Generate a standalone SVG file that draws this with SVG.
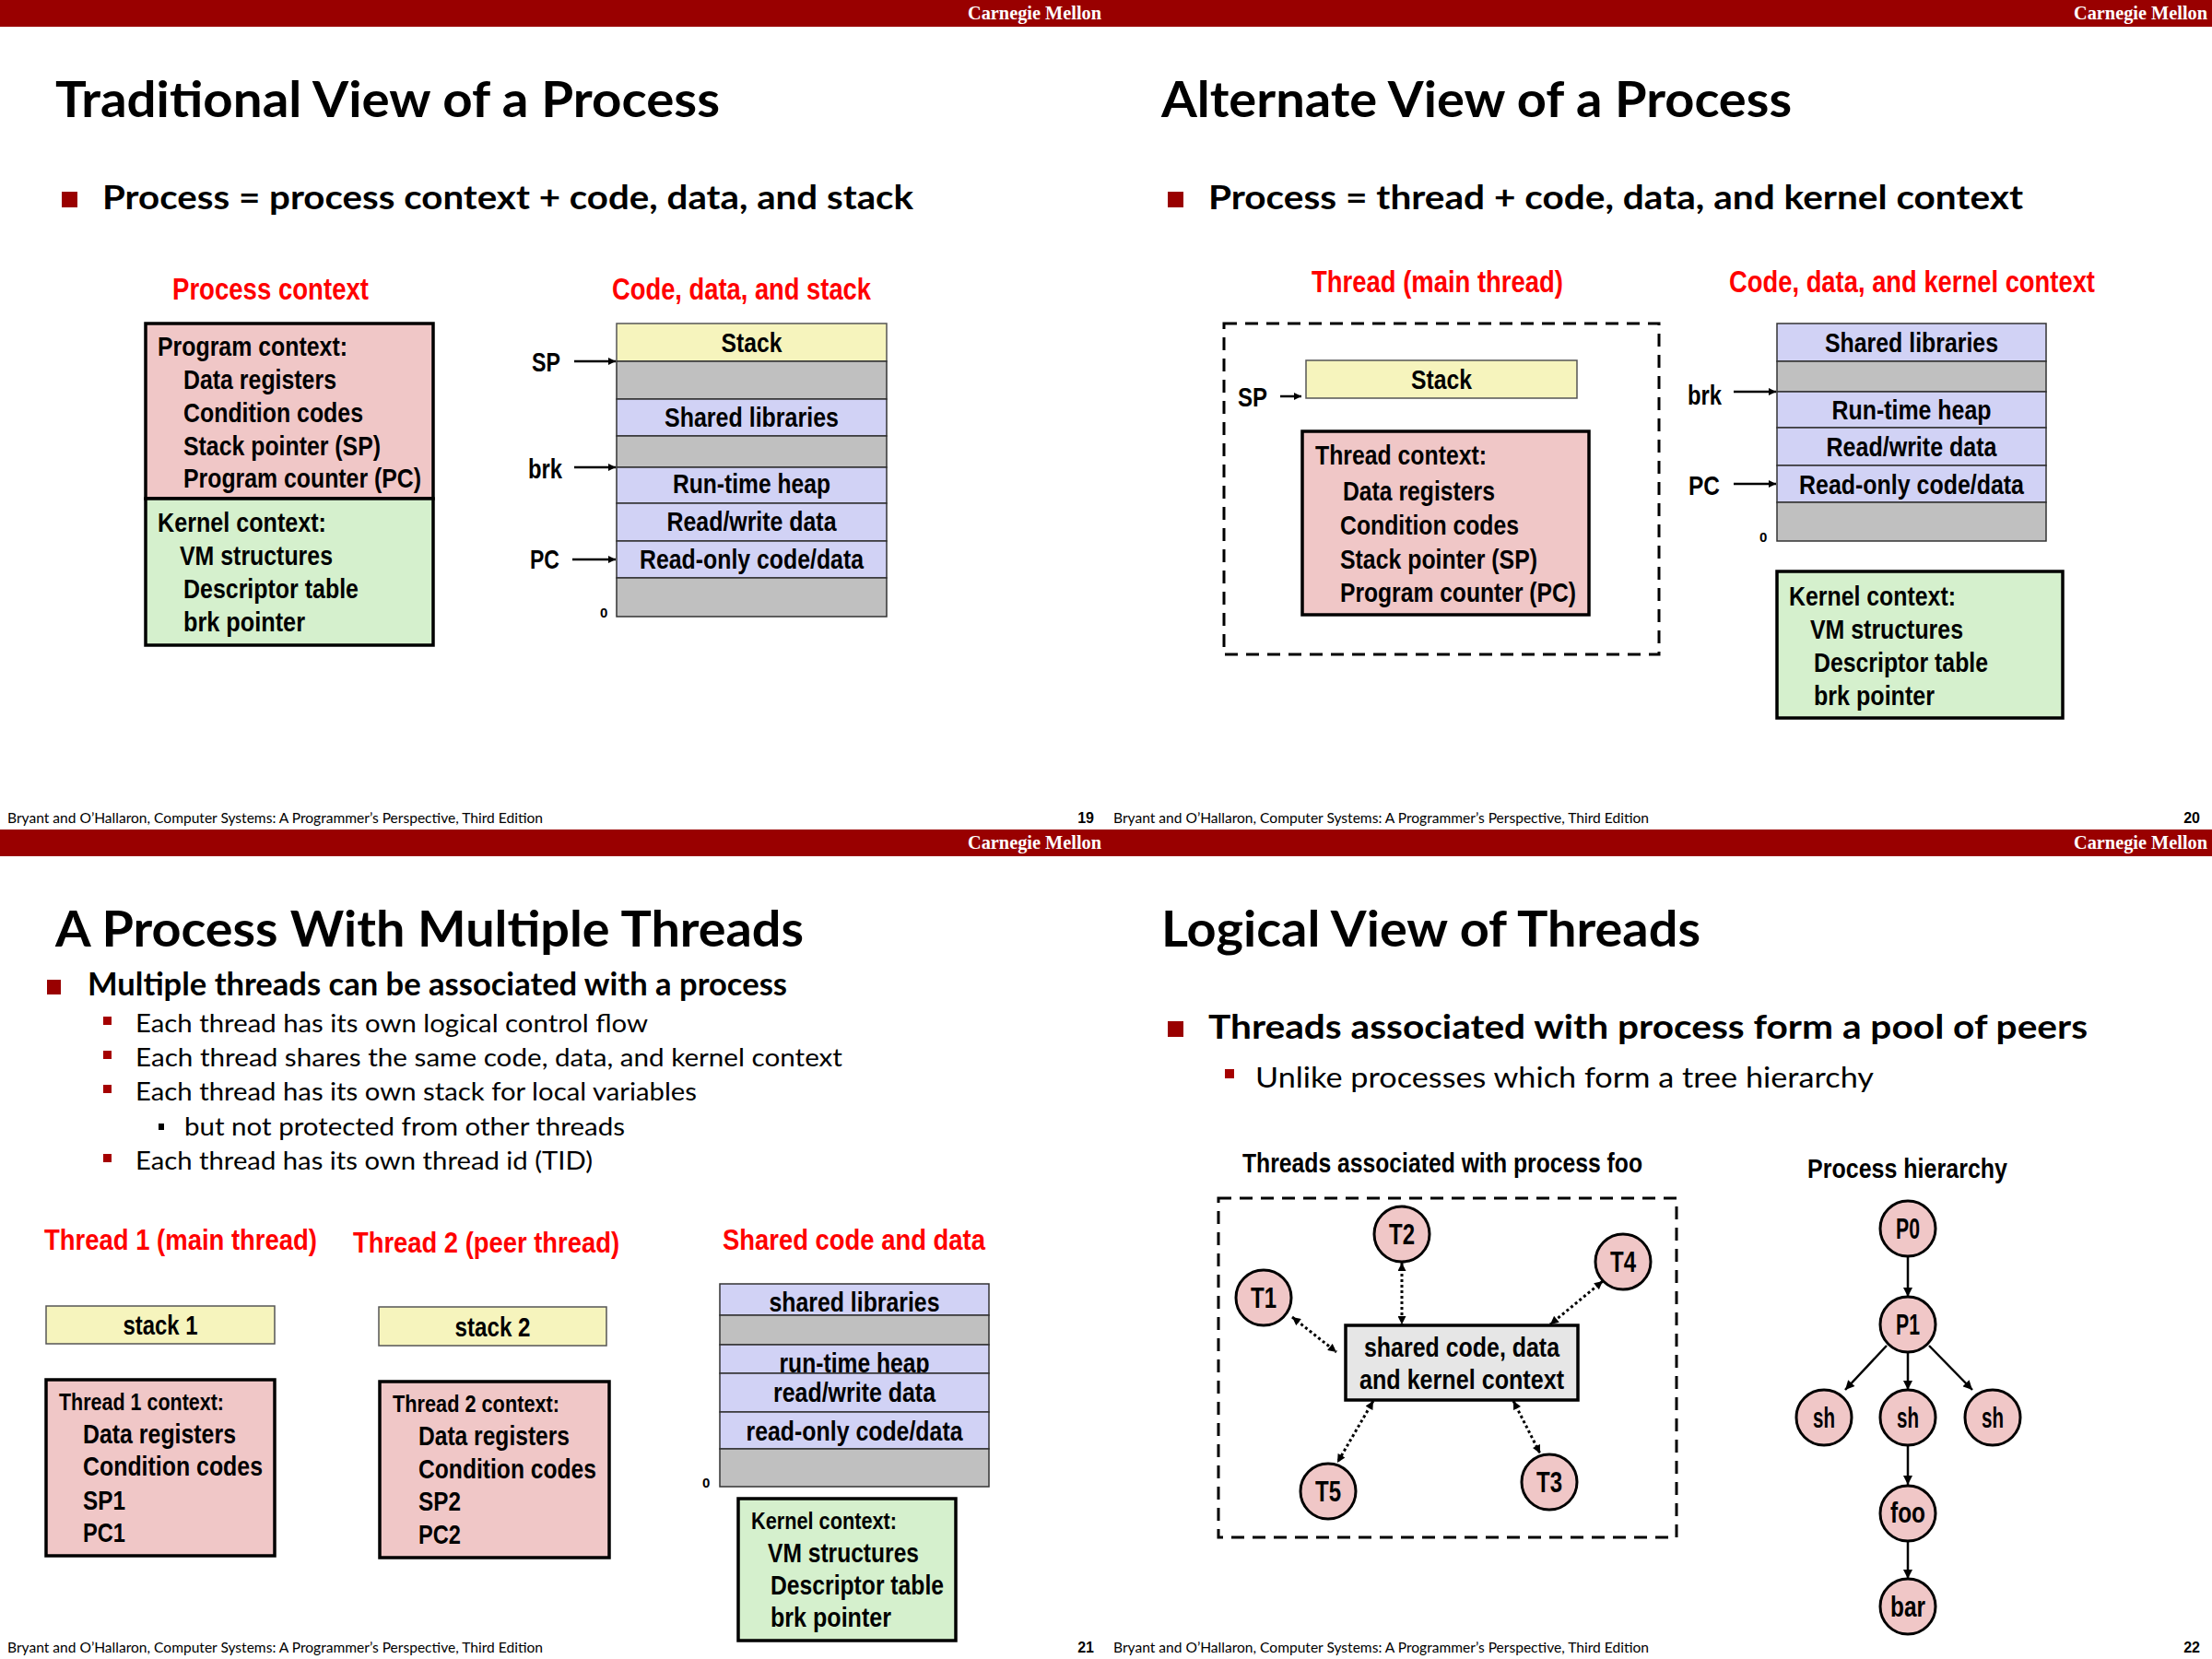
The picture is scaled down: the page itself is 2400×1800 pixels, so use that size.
<svg xmlns="http://www.w3.org/2000/svg" width="2400" height="1800" viewBox="0 0 2400 1800">
<defs>
<style>
.bar{fill:#990000}
.cm{font-family:"Liberation Serif",serif;font-weight:bold;font-size:20px;fill:#fff;text-anchor:end}
.title{font-family:Lato,"Open Sans",sans-serif;font-weight:bold;font-size:53px;fill:#000}
.bul{font-family:Lato,"Open Sans",sans-serif;font-weight:bold;font-size:36px;fill:#000}
.sub{font-family:Lato,"Open Sans",sans-serif;font-size:27px;fill:#000}
.sub4{font-family:Lato,"Open Sans",sans-serif;font-size:31px;fill:#000}
.foot{font-family:Lato,"Open Sans",sans-serif;font-size:15px;fill:#000}
.pg{font-family:"Liberation Sans",sans-serif;font-weight:bold;font-size:16px;text-anchor:end;fill:#000}
.lbl{font-family:"Liberation Sans",Arial,sans-serif;font-weight:bold;font-size:30px;fill:#000}
.sm{font-size:26px}
.red{fill:#ff0000;font-size:33px}
.zero{font-family:"Liberation Sans",sans-serif;font-weight:bold;font-size:15px;fill:#000}
.mid{text-anchor:middle}
.bsq{fill:#990000}
.ssq{fill:#a50000}
.pink{fill:#f0c7c7;stroke:#000;stroke-width:3.5}
.green{fill:#d5f0cd;stroke:#000;stroke-width:3.5}
.yel{fill:#f6f4bd;stroke:#555;stroke-width:1.5}
.lav{fill:#d1d2f5;stroke:#333;stroke-width:1.5}
.gray{fill:#c0c0c0;stroke:#333;stroke-width:1.5}
.core{fill:#e6e6e6;stroke:#000;stroke-width:3.5}
.dash{fill:none;stroke:#000;stroke-width:3;stroke-dasharray:14 9}
.circ{fill:#f0c7c7;stroke:#000;stroke-width:3}
.arr{fill:none;stroke:#000;stroke-width:2.5;marker-end:url(#ah)}
.dot{fill:none;stroke:#000;stroke-width:3;stroke-dasharray:3 3;marker-start:url(#dh);marker-end:url(#dh)}
.tree{fill:none;stroke:#000;stroke-width:2.5;marker-end:url(#th)}
.cl{font-size:32px}
</style>
<marker id="ah" viewBox="0 0 10 10" refX="10" refY="5" markerUnits="userSpaceOnUse" markerWidth="9" markerHeight="8" orient="auto"><path d="M0,0 L10,5 L0,10 z" fill="#000"/></marker>
<marker id="th" viewBox="0 0 10 10" refX="10" refY="5" markerUnits="userSpaceOnUse" markerWidth="11" markerHeight="10" orient="auto"><path d="M0,0 L10,5 L0,10 z" fill="#000"/></marker>
<marker id="dh" viewBox="0 0 10 10" refX="10" refY="5" markerUnits="userSpaceOnUse" markerWidth="10" markerHeight="9" orient="auto-start-reverse"><path d="M0,0 L10,5 L0,10 z" fill="#000"/></marker>
</defs>
<rect width="2400" height="1800" fill="#fff"/>

<!-- ============ Slide 19 ============ -->
<g id="slide19">
<rect class="bar" x="0" y="0" width="1200" height="29"/>
<text class="cm" x="1195" y="21" textLength="145" lengthAdjust="spacingAndGlyphs">Carnegie Mellon</text>
<text class="title" x="60" y="127" textLength="721" lengthAdjust="spacingAndGlyphs">Traditional View of a Process</text>
<rect class="bsq" x="67" y="208" width="17" height="17"/>
<text class="bul" x="111" y="227" textLength="880" lengthAdjust="spacingAndGlyphs">Process = process context + code, data, and stack</text>
<text class="lbl red" x="187" y="325" textLength="213" lengthAdjust="spacingAndGlyphs">Process context</text>
<text class="lbl red" x="664" y="325" textLength="281" lengthAdjust="spacingAndGlyphs">Code, data, and stack</text>
<g id="s19-program-context">
<rect class="pink" x="158" y="351" width="312" height="190"/>
<text class="lbl" x="171" y="386" textLength="206" lengthAdjust="spacingAndGlyphs">Program context:</text>
<text class="lbl" x="199" y="422" textLength="166" lengthAdjust="spacingAndGlyphs">Data registers</text>
<text class="lbl" x="199" y="458" textLength="195" lengthAdjust="spacingAndGlyphs">Condition codes</text>
<text class="lbl" x="199" y="494" textLength="214" lengthAdjust="spacingAndGlyphs">Stack pointer (SP)</text>
<text class="lbl" x="199" y="529" textLength="258" lengthAdjust="spacingAndGlyphs">Program counter (PC)</text>
</g>
<g id="s19-kernel-context">
<rect class="green" x="158" y="541" width="312" height="159"/>
<text class="lbl" x="171" y="577" textLength="183" lengthAdjust="spacingAndGlyphs">Kernel context:</text>
<text class="lbl" x="195" y="613" textLength="166" lengthAdjust="spacingAndGlyphs">VM structures</text>
<text class="lbl" x="199" y="649" textLength="190" lengthAdjust="spacingAndGlyphs">Descriptor table</text>
<text class="lbl" x="199" y="685" textLength="132" lengthAdjust="spacingAndGlyphs">brk pointer</text>
</g>
<g id="s19-memory">
<rect class="yel" x="669" y="351" width="293" height="41"/>
<rect class="gray" x="669" y="392" width="293" height="41"/>
<rect class="lav" x="669" y="433" width="293" height="40"/>
<rect class="gray" x="669" y="473" width="293" height="34"/>
<rect class="lav" x="669" y="507" width="293" height="39"/>
<rect class="lav" x="669" y="546" width="293" height="41"/>
<rect class="lav" x="669" y="587" width="293" height="40"/>
<rect class="gray" x="669" y="627" width="293" height="42"/>
<text class="lbl mid" x="815.5" y="382" textLength="66" lengthAdjust="spacingAndGlyphs">Stack</text>
<text class="lbl mid" x="815.5" y="463" textLength="189" lengthAdjust="spacingAndGlyphs">Shared libraries</text>
<text class="lbl mid" x="815.5" y="535" textLength="171" lengthAdjust="spacingAndGlyphs">Run-time heap</text>
<text class="lbl mid" x="815.5" y="576" textLength="184" lengthAdjust="spacingAndGlyphs">Read/write data</text>
<text class="lbl mid" x="815.5" y="617" textLength="243" lengthAdjust="spacingAndGlyphs">Read-only code/data</text>
<text class="zero" x="651" y="670">0</text>
</g>
<g id="s19-pointers">
<text class="lbl" x="577" y="403" textLength="31" lengthAdjust="spacingAndGlyphs">SP</text>
<text class="lbl" x="573" y="519" textLength="37" lengthAdjust="spacingAndGlyphs">brk</text>
<text class="lbl" x="575" y="617" textLength="32" lengthAdjust="spacingAndGlyphs">PC</text>
</g>
<g id="s19-connectors">
<line class="arr" x1="623" y1="392" x2="668" y2="392"/>
<line class="arr" x1="623" y1="507" x2="668" y2="507"/>
<line class="arr" x1="621" y1="607" x2="668" y2="607"/>
</g>
<text class="foot" x="8" y="893" textLength="581" lengthAdjust="spacingAndGlyphs">Bryant and O’Hallaron, Computer Systems: A Programmer’s Perspective, Third Edition</text>
<text class="pg" x="1187" y="893">19</text>
</g>

<!-- ============ Slide 20 ============ -->
<g id="slide20">
<rect class="bar" x="1200" y="0" width="1200" height="29"/>
<text class="cm" x="2395" y="21" textLength="145" lengthAdjust="spacingAndGlyphs">Carnegie Mellon</text>
<text class="title" x="1260" y="127" textLength="684" lengthAdjust="spacingAndGlyphs">Alternate View of a Process</text>
<rect class="bsq" x="1267" y="208" width="17" height="17"/>
<text class="bul" x="1311" y="227" textLength="884" lengthAdjust="spacingAndGlyphs">Process = thread + code, data, and kernel context</text>
<text class="lbl red" x="1423" y="317" textLength="273" lengthAdjust="spacingAndGlyphs">Thread (main thread)</text>
<text class="lbl red" x="1876" y="317" textLength="397" lengthAdjust="spacingAndGlyphs">Code, data, and kernel context</text>
<g id="s20-thread">
<rect class="dash" x="1328" y="351" width="472" height="359"/>
<rect class="yel" x="1417" y="391" width="294" height="41"/>
<text class="lbl mid" x="1564" y="422" textLength="66" lengthAdjust="spacingAndGlyphs">Stack</text>
<text class="lbl" x="1343" y="441" textLength="32" lengthAdjust="spacingAndGlyphs">SP</text>
<rect class="pink" x="1413" y="468" width="311" height="199"/>
<text class="lbl" x="1427" y="504" textLength="186" lengthAdjust="spacingAndGlyphs">Thread context:</text>
<text class="lbl" x="1457" y="543" textLength="165" lengthAdjust="spacingAndGlyphs">Data registers</text>
<text class="lbl" x="1454" y="580" textLength="194" lengthAdjust="spacingAndGlyphs">Condition codes</text>
<text class="lbl" x="1454" y="617" textLength="214" lengthAdjust="spacingAndGlyphs">Stack pointer (SP)</text>
<text class="lbl" x="1454" y="653" textLength="256" lengthAdjust="spacingAndGlyphs">Program counter (PC)</text>
</g>
<g id="s20-memory">
<rect class="lav" x="1928" y="351" width="292" height="41"/>
<rect class="gray" x="1928" y="392" width="292" height="33"/>
<rect class="lav" x="1928" y="425" width="292" height="39"/>
<rect class="lav" x="1928" y="464" width="292" height="41"/>
<rect class="lav" x="1928" y="505" width="292" height="40"/>
<rect class="gray" x="1928" y="545" width="292" height="42"/>
<text class="lbl mid" x="2074" y="382" textLength="188" lengthAdjust="spacingAndGlyphs">Shared libraries</text>
<text class="lbl mid" x="2074" y="455" textLength="173" lengthAdjust="spacingAndGlyphs">Run-time heap</text>
<text class="lbl mid" x="2074" y="495" textLength="185" lengthAdjust="spacingAndGlyphs">Read/write data</text>
<text class="lbl mid" x="2074" y="536" textLength="244" lengthAdjust="spacingAndGlyphs">Read-only code/data</text>
<text class="zero" x="1909" y="588">0</text>
<text class="lbl" x="1831" y="439" textLength="37" lengthAdjust="spacingAndGlyphs">brk</text>
<text class="lbl" x="1832" y="537" textLength="34" lengthAdjust="spacingAndGlyphs">PC</text>
</g>
<g id="s20-kernel-context">
<rect class="green" x="1928" y="620" width="310" height="159"/>
<text class="lbl" x="1941" y="657" textLength="181" lengthAdjust="spacingAndGlyphs">Kernel context:</text>
<text class="lbl" x="1964" y="693" textLength="166" lengthAdjust="spacingAndGlyphs">VM structures</text>
<text class="lbl" x="1968" y="729" textLength="189" lengthAdjust="spacingAndGlyphs">Descriptor table</text>
<text class="lbl" x="1968" y="765" textLength="131" lengthAdjust="spacingAndGlyphs">brk pointer</text>
</g>
<g id="s20-connectors">
<line class="arr" x1="1389" y1="430" x2="1412" y2="430"/>
<line class="arr" x1="1881" y1="425" x2="1927" y2="425"/>
<line class="arr" x1="1881" y1="525" x2="1927" y2="525"/>
</g>
<text class="foot" x="1208" y="893" textLength="581" lengthAdjust="spacingAndGlyphs">Bryant and O’Hallaron, Computer Systems: A Programmer’s Perspective, Third Edition</text>
<text class="pg" x="2387" y="893">20</text>
</g>

<!-- ============ Slide 21 ============ -->
<g id="slide21">
<rect class="bar" x="0" y="900" width="1200" height="29"/>
<text class="cm" x="1195" y="921" textLength="145" lengthAdjust="spacingAndGlyphs">Carnegie Mellon</text>
<text class="title" x="60" y="1027" textLength="812" lengthAdjust="spacingAndGlyphs">A Process With Multiple Threads</text>
<rect class="bsq" x="51" y="1063" width="15" height="16"/>
<text class="bul" x="95" y="1080" textLength="759" lengthAdjust="spacingAndGlyphs" style="font-size:35px">Multiple threads can be associated with a process</text>
<rect class="ssq" x="112" y="1103" width="9" height="9"/>
<text class="sub" x="147" y="1120" textLength="556" lengthAdjust="spacingAndGlyphs">Each thread has its own logical control flow</text>
<rect class="ssq" x="112" y="1140" width="9" height="9"/>
<text class="sub" x="147" y="1157" textLength="767" lengthAdjust="spacingAndGlyphs">Each thread shares the same code, data, and kernel context</text>
<rect class="ssq" x="112" y="1177" width="9" height="9"/>
<text class="sub" x="147" y="1194" textLength="609" lengthAdjust="spacingAndGlyphs">Each thread has its own stack for local variables</text>
<rect x="172" y="1219" width="6" height="7" fill="#000"/>
<text class="sub" x="200" y="1232" textLength="478" lengthAdjust="spacingAndGlyphs">but not protected from other threads</text>
<rect class="ssq" x="112" y="1252" width="9" height="9"/>
<text class="sub" x="147" y="1269" textLength="496" lengthAdjust="spacingAndGlyphs">Each thread has its own thread id (TID)</text>
<text class="lbl red" x="48" y="1356" textLength="296" lengthAdjust="spacingAndGlyphs" style="font-size:32px">Thread 1 (main thread)</text>
<text class="lbl red" x="383" y="1359" textLength="289" lengthAdjust="spacingAndGlyphs" style="font-size:32px">Thread 2 (peer thread)</text>
<text class="lbl red" x="784" y="1356" textLength="285" lengthAdjust="spacingAndGlyphs" style="font-size:32px">Shared code and data</text>
<g id="s21-thread1">
<rect class="yel" x="50" y="1417" width="248" height="41"/>
<text class="lbl mid" x="174" y="1448" textLength="81" lengthAdjust="spacingAndGlyphs">stack 1</text>
<rect class="pink" x="50" y="1497" width="248" height="191"/>
<text class="lbl sm" x="64" y="1530" textLength="179" lengthAdjust="spacingAndGlyphs">Thread 1 context:</text>
<text class="lbl" x="90" y="1566" textLength="166" lengthAdjust="spacingAndGlyphs">Data registers</text>
<text class="lbl" x="90" y="1601" textLength="195" lengthAdjust="spacingAndGlyphs">Condition codes</text>
<text class="lbl" x="90" y="1638" textLength="46" lengthAdjust="spacingAndGlyphs">SP1</text>
<text class="lbl" x="90" y="1673" textLength="46" lengthAdjust="spacingAndGlyphs">PC1</text>
</g>
<g id="s21-thread2">
<rect class="yel" x="411" y="1418" width="247" height="42"/>
<text class="lbl mid" x="534.5" y="1450" textLength="82" lengthAdjust="spacingAndGlyphs">stack 2</text>
<rect class="pink" x="412" y="1499" width="249" height="191"/>
<text class="lbl sm" x="426" y="1532" textLength="181" lengthAdjust="spacingAndGlyphs">Thread 2 context:</text>
<text class="lbl" x="454" y="1568" textLength="164" lengthAdjust="spacingAndGlyphs">Data registers</text>
<text class="lbl" x="454" y="1604" textLength="193" lengthAdjust="spacingAndGlyphs">Condition codes</text>
<text class="lbl" x="454" y="1639" textLength="46" lengthAdjust="spacingAndGlyphs">SP2</text>
<text class="lbl" x="454" y="1675" textLength="46" lengthAdjust="spacingAndGlyphs">PC2</text>
</g>
<g id="s21-shared">
<rect class="lav" x="781" y="1393" width="292" height="34"/>
<text class="lbl mid" x="927" y="1423" textLength="185" lengthAdjust="spacingAndGlyphs">shared libraries</text>
<rect class="gray" x="781" y="1427" width="292" height="32"/>
<rect class="lav" x="781" y="1459" width="292" height="31"/>
<text class="lbl mid" x="927" y="1489" textLength="163" lengthAdjust="spacingAndGlyphs">run-time heap</text>
<rect class="lav" x="781" y="1490" width="292" height="42"/>
<text class="lbl mid" x="927" y="1521" textLength="176" lengthAdjust="spacingAndGlyphs">read/write data</text>
<rect class="lav" x="781" y="1532" width="292" height="40"/>
<text class="lbl mid" x="927" y="1563" textLength="235" lengthAdjust="spacingAndGlyphs">read-only code/data</text>
<rect class="gray" x="781" y="1572" width="292" height="41"/>
<text class="zero" x="762" y="1614">0</text>
</g>
<g id="s21-kernel-context">
<rect class="green" x="801" y="1626" width="236" height="154"/>
<text class="lbl sm" x="815" y="1659" textLength="158" lengthAdjust="spacingAndGlyphs">Kernel context:</text>
<text class="lbl" x="833" y="1695" textLength="164" lengthAdjust="spacingAndGlyphs">VM structures</text>
<text class="lbl" x="836" y="1730" textLength="188" lengthAdjust="spacingAndGlyphs">Descriptor table</text>
<text class="lbl" x="836" y="1765" textLength="131" lengthAdjust="spacingAndGlyphs">brk pointer</text>
</g>
<text class="foot" x="8" y="1793" textLength="581" lengthAdjust="spacingAndGlyphs">Bryant and O’Hallaron, Computer Systems: A Programmer’s Perspective, Third Edition</text>
<text class="pg" x="1187" y="1793">21</text>
</g>

<!-- ============ Slide 22 ============ -->
<g id="slide22">
<rect class="bar" x="1200" y="900" width="1200" height="29"/>
<text class="cm" x="2395" y="921" textLength="145" lengthAdjust="spacingAndGlyphs">Carnegie Mellon</text>
<text class="title" x="1260" y="1027" textLength="585" lengthAdjust="spacingAndGlyphs">Logical View of Threads</text>
<rect class="bsq" x="1267" y="1108" width="17" height="17"/>
<text class="bul" x="1311" y="1127" textLength="954" lengthAdjust="spacingAndGlyphs">Threads associated with process form a pool of peers</text>
<rect class="ssq" x="1329" y="1160" width="10" height="10"/>
<text class="sub4" x="1362" y="1180" textLength="671" lengthAdjust="spacingAndGlyphs">Unlike processes which form a tree hierarchy</text>
<text class="lbl" x="1348" y="1272" textLength="434" lengthAdjust="spacingAndGlyphs">Threads associated with process foo</text>
<text class="lbl" x="1961" y="1278" textLength="217" lengthAdjust="spacingAndGlyphs">Process hierarchy</text>
<rect class="dash" x="1322" y="1300" width="497" height="368"/>
<g id="s22-core">
<rect class="core" x="1460" y="1438" width="252" height="81"/>
<text class="lbl mid" x="1586" y="1472" textLength="212" lengthAdjust="spacingAndGlyphs">shared code, data</text>
<text class="lbl mid" x="1586" y="1507" textLength="222" lengthAdjust="spacingAndGlyphs">and kernel context</text>
</g>
<g id="s22-T1"><circle class="circ" cx="1371" cy="1408" r="30"/><text class="lbl cl mid" x="1371" y="1419" textLength="28" lengthAdjust="spacingAndGlyphs">T1</text></g>
<g id="s22-T2"><circle class="circ" cx="1521" cy="1339" r="30"/><text class="lbl cl mid" x="1521" y="1350" textLength="28" lengthAdjust="spacingAndGlyphs">T2</text></g>
<g id="s22-T3"><circle class="circ" cx="1681" cy="1608" r="30"/><text class="lbl cl mid" x="1681" y="1619" textLength="28" lengthAdjust="spacingAndGlyphs">T3</text></g>
<g id="s22-T4"><circle class="circ" cx="1761" cy="1369" r="30"/><text class="lbl cl mid" x="1761" y="1380" textLength="28" lengthAdjust="spacingAndGlyphs">T4</text></g>
<g id="s22-T5"><circle class="circ" cx="1441" cy="1618" r="30"/><text class="lbl cl mid" x="1441" y="1629" textLength="28" lengthAdjust="spacingAndGlyphs">T5</text></g>
<g id="s22-P0"><circle class="circ" cx="2070" cy="1333" r="30"/><text class="lbl cl mid" x="2070" y="1344" textLength="26" lengthAdjust="spacingAndGlyphs">P0</text></g>
<g id="s22-P1"><circle class="circ" cx="2070" cy="1437" r="30"/><text class="lbl cl mid" x="2070" y="1448" textLength="26" lengthAdjust="spacingAndGlyphs">P1</text></g>
<g id="s22-sh1"><circle class="circ" cx="1979" cy="1538" r="30"/><text class="lbl cl mid" x="1979" y="1549" textLength="24" lengthAdjust="spacingAndGlyphs">sh</text></g>
<g id="s22-sh2"><circle class="circ" cx="2070" cy="1538" r="30"/><text class="lbl cl mid" x="2070" y="1549" textLength="24" lengthAdjust="spacingAndGlyphs">sh</text></g>
<g id="s22-sh3"><circle class="circ" cx="2162" cy="1538" r="30"/><text class="lbl cl mid" x="2162" y="1549" textLength="24" lengthAdjust="spacingAndGlyphs">sh</text></g>
<g id="s22-foo"><circle class="circ" cx="2070" cy="1642" r="30"/><text class="lbl cl mid" x="2070" y="1652" textLength="38" lengthAdjust="spacingAndGlyphs">foo</text></g>
<g id="s22-bar"><circle class="circ" cx="2070" cy="1743" r="30"/><text class="lbl cl mid" x="2070" y="1754" textLength="38" lengthAdjust="spacingAndGlyphs">bar</text></g>
<g id="s22-connectors">
<line class="dot" x1="1402" y1="1429" x2="1450" y2="1467"/>
<line class="dot" x1="1521" y1="1370" x2="1521" y2="1437"/>
<line class="dot" x1="1739" y1="1390" x2="1682" y2="1437"/>
<line class="dot" x1="1490" y1="1520" x2="1451" y2="1587"/>
<line class="dot" x1="1642" y1="1520" x2="1671" y2="1577"/>
<line class="tree" x1="2070" y1="1364" x2="2070" y2="1407"/>
<line class="tree" x1="2047" y1="1460" x2="2002" y2="1508"/>
<line class="tree" x1="2070" y1="1467" x2="2070" y2="1508"/>
<line class="tree" x1="2093" y1="1460" x2="2140" y2="1508"/>
<line class="tree" x1="2070" y1="1569" x2="2070" y2="1611"/>
<line class="tree" x1="2070" y1="1673" x2="2070" y2="1713"/>
</g>
<text class="foot" x="1208" y="1793" textLength="581" lengthAdjust="spacingAndGlyphs">Bryant and O’Hallaron, Computer Systems: A Programmer’s Perspective, Third Edition</text>
<text class="pg" x="2387" y="1793">22</text>
</g>
</svg>
